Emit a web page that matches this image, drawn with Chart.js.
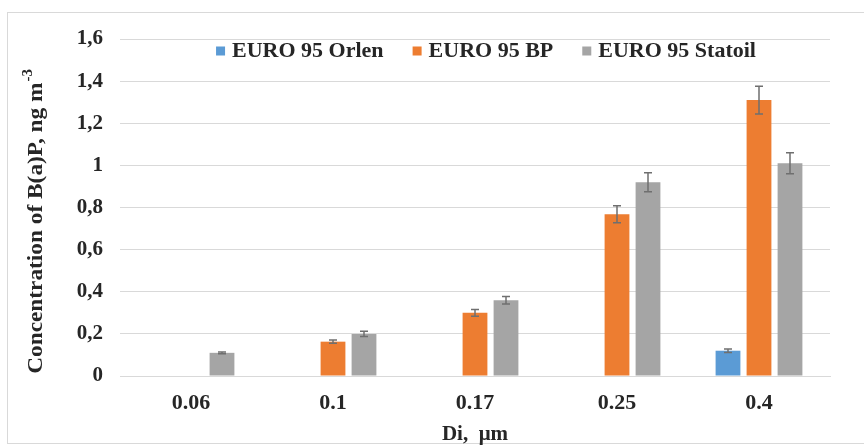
<!DOCTYPE html>
<html>
<head>
<meta charset="utf-8">
<script src="https://cdn.jsdelivr.net/npm/chart.js@4.4.1/dist/chart.umd.min.js"></script>
<style>
  html, body { margin: 0; padding: 0; background: #fff; }
  #grafico { display: block; }
</style>
</head>
<body>
<canvas id="grafico" width="864" height="445"></canvas>
<script>
// particle diameter classes (x axis)
const diametros = ['0.06', '0.1', '0.17', '0.25', '0.4'];

// B(a)P concentration per fuel, ng m-3
const orlen   = [null, null, null, null, 0.12];
const bp      = [null, 0.163, 0.30, 0.768, 1.31];
const statoil = [0.11, 0.20, 0.36, 0.92, 1.01];

// standard deviation for each bar
const orlenErr   = [null, null, null, null, 0.008];
const bpErr      = [null, 0.008, 0.016, 0.04, 0.066];
const statoilErr = [0.004, 0.012, 0.018, 0.045, 0.05];

const yTicks = [0, 0.2, 0.4, 0.6, 0.8, 1, 1.2, 1.4, 1.6];

const fuente = 'Liberation Serif, Times New Roman, serif';
const colorTexto = '#262626';

// white background and thin frame around the whole figure
const marco = {
    id: 'marco',
    beforeDraw(chart) {
        const c = chart.ctx;
        c.save();
        c.fillStyle = '#fff';
        c.fillRect(0, 0, chart.width, chart.height);
        c.strokeStyle = '#d9d9d9';
        c.lineWidth = 1;
        c.strokeRect(7.5, 12.5, chart.width + 10, chart.height - 14);
        c.restore();
    }
};

// error bars, drawn through the y scale
const barrasError = {
    id: 'barrasError',
    afterDatasetsDraw(chart) {
        const c = chart.ctx;
        const y = chart.scales.y;
        c.save();
        c.strokeStyle = '#6f6f6f';
        c.lineWidth = 1.5;
        chart.data.datasets.forEach((ds, i) => {
            const meta = chart.getDatasetMeta(i);
            meta.data.forEach((bar, j) => {
                const v = ds.data[j];
                const e = ds.errores[j];
                if (v == null || e == null) return;
                const top = y.getPixelForValue(v + e);
                const bot = y.getPixelForValue(v - e);
                c.beginPath();
                c.moveTo(bar.x, top); c.lineTo(bar.x, bot);
                c.moveTo(bar.x - 4, top); c.lineTo(bar.x + 4, top);
                c.moveTo(bar.x - 4, bot); c.lineTo(bar.x + 4, bot);
                c.stroke();
            });
        });
        c.restore();
    }
};

// one-row legend laid over the top of the plot area
const leyenda = {
    id: 'leyenda',
    afterDatasetsDraw(chart) {
        const c = chart.ctx;
        const area = chart.chartArea;
        const caja = 9, sep = 7, hueco = 29;
        c.save();
        c.font = 'bold 22px ' + fuente;
        c.textBaseline = 'middle';
        const items = chart.data.datasets.map(ds => ({
            texto: ds.label, color: ds.backgroundColor, w: c.measureText(ds.label).width
        }));
        const total = items.reduce((s, it) => s + caja + sep + it.w, 0) + hueco * (items.length - 1);
        let x = (area.left + area.right) / 2 + 11 - total / 2;
        const yc = area.top + 12;
        items.forEach(it => {
            c.fillStyle = it.color;
            c.fillRect(x, yc - caja / 2, caja, caja);
            c.fillStyle = colorTexto;
            c.fillText(it.texto, x + caja + sep, yc);
            x += caja + sep + it.w + hueco;
        });
        c.restore();
    }
};

// rotated y title with superscript unit
const tituloY = {
    id: 'tituloY',
    afterDraw(chart) {
        const c = chart.ctx;
        const main = 'Concentration of B(a)P, ng m';
        const sup = '-3';
        c.save();
        c.translate(36, 222);
        c.rotate(-Math.PI / 2);
        c.scale(1.06, 1);
        c.fillStyle = colorTexto;
        c.textBaseline = 'middle';
        c.font = 'bold 22px ' + fuente;
        const w1 = c.measureText(main).width;
        c.font = 'bold 14px ' + fuente;
        const w2 = c.measureText(sup).width;
        const x0 = -(w1 + w2) / 2;
        c.font = 'bold 22px ' + fuente;
        c.fillText(main, x0, 0);
        c.font = 'bold 14px ' + fuente;
        c.fillText(sup, x0 + w1 + 1, -8);
        c.restore();
    }
};

const ctx = document.getElementById('grafico').getContext('2d');

new Chart(ctx, {
    type: 'bar',
    data: {
        labels: diametros,
        datasets: [
            { label: 'EURO 95 Orlen', data: orlen, errores: orlenErr, backgroundColor: '#5b9bd5' },
            { label: 'EURO 95 BP', data: bp, errores: bpErr, backgroundColor: '#ed7d31' },
            { label: 'EURO 95 Statoil', data: statoil, errores: statoilErr, backgroundColor: '#a5a5a5' }
        ]
    },
    options: {
        responsive: false,
        animation: false,
        categoryPercentage: 0.655,
        barPercentage: 0.8,
        layout: { padding: { top: 39, right: 34, bottom: 0, left: 0 } },
        plugins: {
            legend: { display: false },
            tooltip: { enabled: false }
        },
        scales: {
            x: {
                grid: { display: false, drawTicks: false },
                border: { color: '#d9d9d9' },
                ticks: {
                    padding: 14,
                    color: colorTexto,
                    font: { family: fuente, size: 22, weight: 'bold' }
                },
                title: {
                    display: true,
                    text: 'Di,  μm',
                    color: colorTexto,
                    padding: { top: 0, bottom: 0 },
                    font: { family: fuente, size: 21, weight: 'bold', lineHeight: 1 }
                },
                afterFit(scale) { scale.height = 69; }
            },
            y: {
                min: 0,
                max: 1.6,
                afterBuildTicks(scale) { scale.ticks = yTicks.map(v => ({ value: v })); },
                grid: { color: '#d9d9d9', drawTicks: false },
                border: { display: false },
                ticks: {
                    padding: 17,
                    color: colorTexto,
                    font: { family: fuente, size: 21, weight: 'bold' },
                    callback: v => String(v).replace('.', ',')
                },
                afterFit(scale) { scale.width = 120; }
            }
        }
    },
    plugins: [marco, barrasError, leyenda, tituloY]
});
</script>
</body>
</html>
